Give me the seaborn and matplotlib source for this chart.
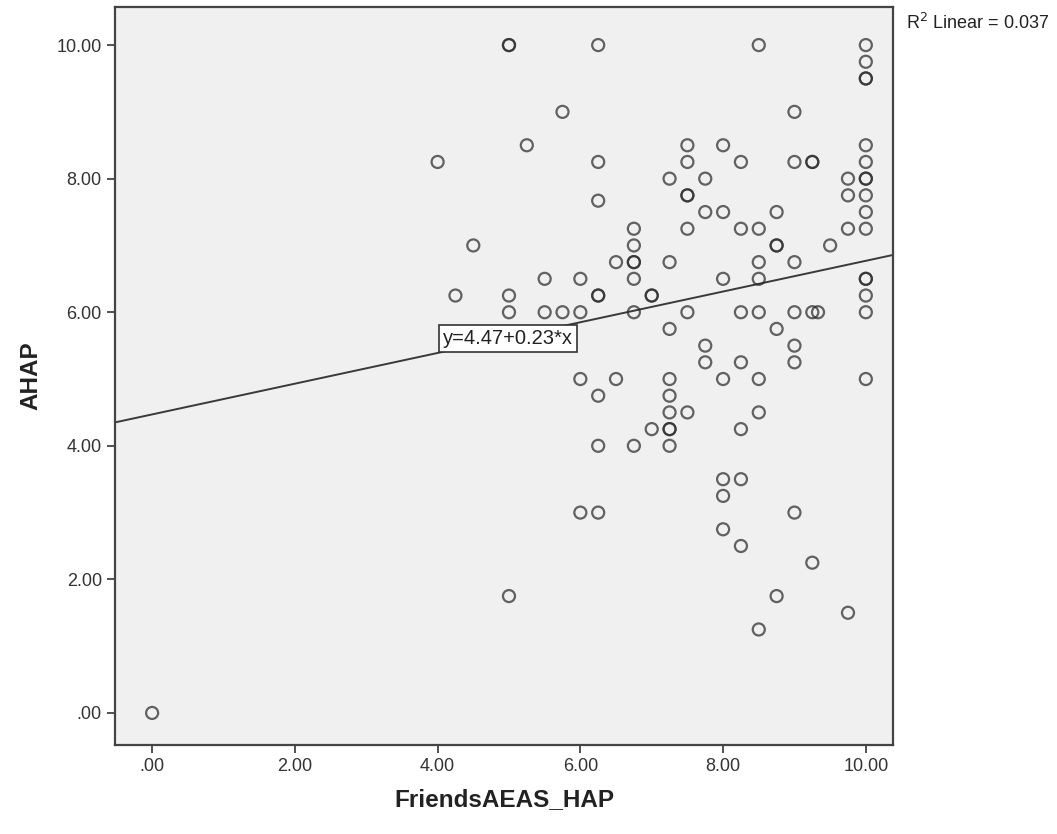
import matplotlib
matplotlib.use("Agg")
import matplotlib.pyplot as plt
import seaborn as sns
import numpy as np
import pandas as pd

# Data (duplicates appear as darker circles)
friends_hap = [0, 5, 4, 4.25, 4.5, 5, 5, 5, 5, 5.25, 5.5, 5.5, 5.75, 5.75,
               6, 6, 6, 6, 6.25, 6.25, 6.25, 6.25, 6.25, 6.25, 6.25, 6.25,
               6.5, 6.5, 6.75, 6.75, 6.75, 6.75, 6.75, 6.75, 6.75,
               7, 7, 7,
               7.25, 7.25, 7.25, 7.25, 7.25, 7.25, 7.25, 7.25, 7.25,
               7.5, 7.5, 7.5, 7.5, 7.5, 7.5, 7.5,
               7.75, 7.75, 7.75, 7.75,
               8, 8, 8, 8, 8, 8, 8,
               8.25, 8.25, 8.25, 8.25, 8.25, 8.25, 8.25,
               8.5, 8.5, 8.5, 8.5, 8.5, 8.5, 8.5, 8.5,
               8.75, 8.75, 8.75, 8.75, 8.75,
               9, 9, 9, 9, 9, 9, 9,
               9.25, 9.25, 9.25, 9.33, 9.25,
               9.5,
               9.75, 9.75, 9.75, 9.75,
               10, 10, 10, 10, 10, 10, 10, 10, 10, 10, 10, 10, 10, 10, 10, 10]
ahap = [0, 1.75, 8.25, 6.25, 7, 10, 10, 6.25, 6, 8.5, 6.5, 6, 9, 6,
        6.5, 6, 5, 3, 10, 8.25, 7.67, 6.25, 6.25, 4.75, 4, 3,
        6.75, 5, 7.25, 7, 6.75, 6.75, 6.5, 6, 4,
        6.25, 6.25, 4.25,
        8, 6.75, 5.75, 5, 4.75, 4.5, 4.25, 4.25, 4,
        8.5, 8.25, 7.75, 7.75, 7.25, 6, 4.5,
        8, 7.5, 5.5, 5.25,
        8.5, 7.5, 6.5, 5, 3.5, 3.25, 2.75,
        8.25, 7.25, 6, 5.25, 4.25, 3.5, 2.5,
        10, 7.25, 6.75, 6.5, 6, 5, 4.5, 1.25,
        7.5, 7, 7, 5.75, 1.75,
        9, 8.25, 6.75, 6, 5.5, 5.25, 3,
        8.25, 8.25, 6, 6, 2.25,
        7,
        8, 7.75, 7.25, 1.5,
        10, 9.75, 9.5, 9.5, 8.5, 8.25, 8, 8, 7.75, 7.5, 7.25, 6.5, 6.5, 6.25, 6, 5]

intercept = 4.47
slope = 0.23
r2_text = "R$^2$ Linear = 0.037"
eq_text = "y=4.47+0.23*x"
tick_vals = [0, 2, 4, 6, 8, 10]
tick_labels = [".00", "2.00", "4.00", "6.00", "8.00", "10.00"]

df = pd.DataFrame({"FriendsAEAS_HAP": friends_hap, "AHAP": ahap})

sns.set_style("ticks")
plt.rcParams["font.family"] = ["Liberation Sans", "DejaVu Sans"]

fig = plt.figure(figsize=(10.57, 8.34), dpi=100)
ax = fig.add_axes([0.1088, 0.1067, 0.7360, 0.8849])
ax.set_facecolor("#f0f0f0")

xlim = (-0.52, 10.38)
ylim = (-0.48, 10.57)

line_df = pd.DataFrame({"x": list(xlim)})
line_df["y"] = intercept + slope * line_df["x"]
sns.lineplot(data=line_df, x="x", y="y", ax=ax, color="#3a3a3a", linewidth=1.4, zorder=2)

sns.scatterplot(data=df, x="FriendsAEAS_HAP", y="AHAP", ax=ax, marker="o",
                s=75, facecolor="none", edgecolor="#2a2a2a", linewidth=1.6,
                alpha=0.72, zorder=3)

ax.set_xlim(*xlim)
ax.set_ylim(*ylim)
ax.set_xticks(tick_vals)
ax.set_xticklabels(tick_labels)
ax.set_yticks(tick_vals)
ax.set_yticklabels(tick_labels)
ax.tick_params(axis="both", direction="out", length=6, width=1.2, color="#333333",
               labelsize=13, labelcolor="#333333")
for sp in ax.spines.values():
    sp.set_visible(True)
    sp.set_color("#444444")
    sp.set_linewidth(1.6)

ax.set_xlabel("FriendsAEAS_HAP", fontsize=17.5, fontweight="bold", labelpad=9, color="#222222")
ax.set_ylabel("AHAP", fontsize=17.5, fontweight="bold", labelpad=10, color="#222222")

ax.text(4.99, 5.61, eq_text, fontsize=14.5, ha="center", va="center", color="#222222",
        bbox=dict(boxstyle="square,pad=0.2", facecolor="white", edgecolor="#333333", linewidth=1.2),
        zorder=4)
fig.text(0.857, 0.972, r2_text, fontsize=13, ha="left", va="center", color="#222222")

fig.savefig("out.png", dpi=100)
